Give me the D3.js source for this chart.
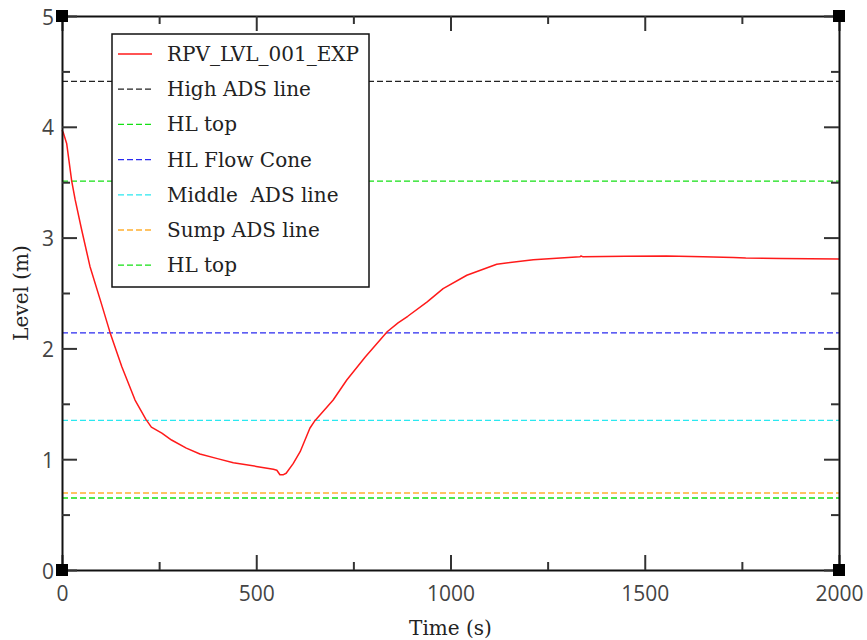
<!DOCTYPE html>
<html>
<head>
<meta charset="utf-8">
<script src="https://cdn.jsdelivr.net/npm/d3@7"></script>
<style>
  html, body { margin: 0; padding: 0; background: #fff; }
  svg { display: block; }
</style>
</head>
<body>
<svg id="chart" width="867" height="640"></svg>
<script>
// Measured RPV level (m) versus time (s)
const timeS = [0, 3, 12, 25, 34, 50, 72, 100, 124, 154, 188, 216, 230, 257, 282, 320, 355, 400, 441, 500, 544, 553, 561, 570, 577, 595, 613, 638, 651, 698, 733, 780, 837, 865, 890, 940, 981, 1042, 1119, 1213, 1333, 1336, 1340, 1450, 1556, 1620, 1650, 1728, 1760, 1850, 2000];
const levelM = [3.97, 3.95, 3.85, 3.51, 3.34, 3.08, 2.74, 2.42, 2.14, 1.835, 1.534, 1.36, 1.29, 1.236, 1.173, 1.10, 1.047, 1.005, 0.968, 0.935, 0.909, 0.90, 0.86, 0.86, 0.873, 0.96, 1.068, 1.279, 1.348, 1.534, 1.715, 1.92, 2.15, 2.23, 2.29, 2.42, 2.54, 2.66, 2.76, 2.80, 2.827, 2.834, 2.828, 2.832, 2.834, 2.83, 2.828, 2.82, 2.815, 2.812, 2.806];

// Reference levels (m)
const refNames  = ["High ADS line", "HL top", "HL Flow Cone", "Middle  ADS line", "Sump ADS line", "HL top"];
const refLevels = [4.41, 3.51, 2.14, 1.35, 0.695, 0.65];
const refColors = ["#222222", "#14e014", "#2a2af0", "#2ae8f0", "#ffb030", "#14e014"];

const seriesName = "RPV_LVL_001_EXP";
const seriesColor = "#ff1a1a";

const xTicks = [0, 500, 1000, 1500, 2000];
const xMinor = [250, 750, 1250, 1750];
const yTicks = [0, 1, 2, 3, 4, 5];
const yMinor = [0.5, 1.5, 2.5, 3.5, 4.5];

const svg = d3.select("#chart");
const padL = 62, padR = 839, padT = 16, padB = 570;

const x = d3.scaleLinear().domain([0, 2000]).range([padL, padR]);
const y = d3.scaleLinear().domain([0, 5]).range([padB, padT]);

const serif = "'DejaVu Serif', serif";
const sans = "'Open Sans', 'Noto Sans', sans-serif";

// Reference level lines
const refG = svg.append("g");
refLevels.forEach((v, i) => {
  refG.append("line")
    .attr("x1", x(0)).attr("x2", x(2000))
    .attr("y1", y(v)).attr("y2", y(v))
    .attr("stroke", refColors[i]).attr("stroke-width", 1.3)
    .attr("stroke-dasharray", "6,3");
});

// Measured level curve
const line = d3.line().x((d, i) => x(timeS[i])).y((d, i) => y(levelM[i]));
svg.append("path")
  .datum(levelM)
  .attr("d", line)
  .attr("fill", "none")
  .attr("stroke", seriesColor)
  .attr("stroke-width", 1.5)
  .attr("stroke-linejoin", "round");

// Axes: frame on all four sides with inward ticks
function styleAxis(g) {
  g.select(".domain").attr("stroke", "#111").attr("stroke-width", 2);
  g.selectAll(".tick line").attr("stroke", "#333").attr("stroke-width", 2);
}
function addAxis(axisFn, scale, translate, ticks, minor, labels) {
  const major = svg.append("g").attr("transform", translate)
    .call(axisFn(scale).tickValues(ticks).tickSizeInner(-15).tickSizeOuter(0).tickPadding(labels ? 22 : 0)
      .tickFormat(labels ? d3.format("d") : () => ""));
  styleAxis(major);
  const mn = svg.append("g").attr("transform", translate)
    .call(axisFn(scale).tickValues(minor).tickSizeInner(-8).tickSizeOuter(0).tickFormat(() => ""));
  styleAxis(mn);
  mn.select(".domain").remove();
  return major;
}
const gBottom = addAxis(d3.axisBottom, x, `translate(0,${padB})`, xTicks, xMinor, true);
addAxis(d3.axisTop, x, `translate(0,${padT})`, xTicks, xMinor, false);
const gLeft = addAxis(d3.axisLeft, y, `translate(${padL},0)`, yTicks, yMinor, true);
addAxis(d3.axisRight, y, `translate(${padR},0)`, yTicks, yMinor, false);

gBottom.selectAll(".tick text")
  .attr("font-family", sans).attr("font-size", 21).attr("fill", "#444")
  .attr("y", 0).attr("dy", 0)
  .attr("transform", "translate(0,31)");
gLeft.selectAll(".tick text")
  .attr("font-family", sans).attr("font-size", 21).attr("fill", "#444")
  .attr("x", -8).attr("dy", 0)
  .attr("transform", "translate(0,8)");

// Corner markers
const corners = [[padL, padT], [padR, padT], [padL, padB], [padR, padB]];
svg.append("g").selectAll("rect").data(corners).join("rect")
  .attr("x", d => d[0] - 6).attr("y", d => d[1] - 6)
  .attr("width", 12).attr("height", 12)
  .attr("fill", "#000");

// Axis titles
svg.append("text")
  .attr("x", (padL + padR) / 2).attr("y", 635)
  .attr("text-anchor", "middle")
  .attr("font-family", serif).attr("font-size", 20).attr("fill", "#222")
  .text("Time (s)");
svg.append("text")
  .attr("transform", `translate(28,${(padT + padB) / 2}) rotate(-90)`)
  .attr("text-anchor", "middle")
  .attr("font-family", serif).attr("font-size", 20).attr("fill", "#222")
  .text("Level (m)");

// Legend
const legendItems = [{ name: seriesName, color: seriesColor, dash: null }]
  .concat(refNames.map((n, i) => ({ name: n, color: refColors[i], dash: "6,3" })));
const lg = svg.append("g");
lg.append("rect")
  .attr("x", 112).attr("y", 34).attr("width", 257).attr("height", 253)
  .attr("fill", "#fff").attr("stroke", "#111").attr("stroke-width", 1.5);
legendItems.forEach((d, i) => {
  const cy = 54 + i * 35.2;
  lg.append("line")
    .attr("x1", 118).attr("x2", 152).attr("y1", cy).attr("y2", cy)
    .attr("stroke", d.color).attr("stroke-width", d.dash ? 1.3 : 1.5)
    .attr("stroke-dasharray", d.dash);
  lg.append("text")
    .attr("x", 167).attr("y", cy + 7)
    .attr("font-family", serif).attr("font-size", 20).attr("fill", "#222")
    .style("white-space", "pre")
    .text(d.name);
});
</script>
</body>
</html>
